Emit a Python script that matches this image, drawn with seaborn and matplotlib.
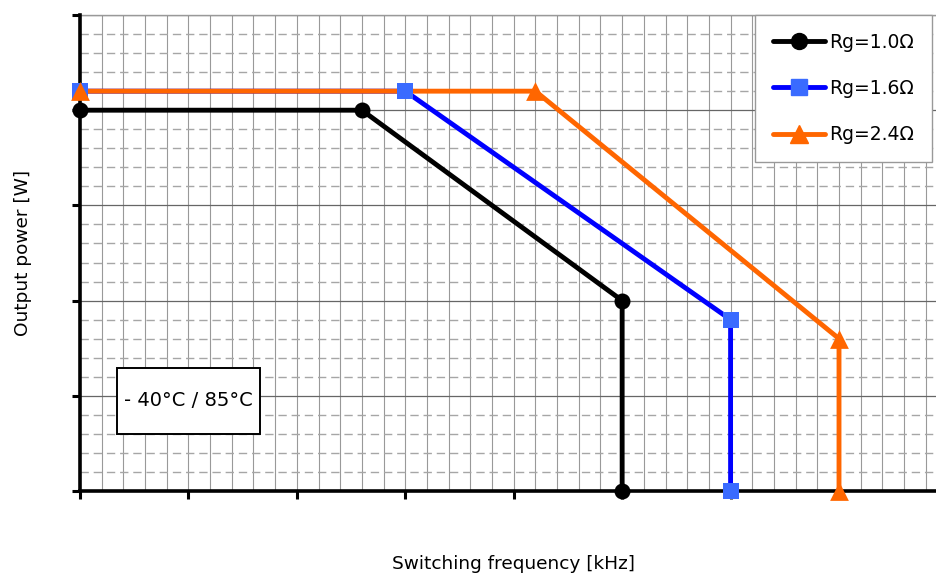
import numpy as np
import pandas as pd
import seaborn as sns
import matplotlib
matplotlib.use("Agg")
import matplotlib.pyplot as plt
from matplotlib.lines import Line2D
from matplotlib.patches import Rectangle
from matplotlib.ticker import MultipleLocator

# ---- data (in grid units) ----
series_names = ["Rg=1.0Ω", "Rg=1.6Ω", "Rg=2.4Ω"]
freq_rg10 = [0.0, 2.6, 5.0, 5.0]
power_rg10 = [4.0, 4.0, 2.0, 0.0]
freq_rg16 = [0.0, 3.0, 6.0, 6.0]
power_rg16 = [4.2, 4.2, 1.8, 0.0]
freq_rg24 = [0.0, 4.2, 7.0, 7.0]
power_rg24 = [4.2, 4.2, 1.6, 0.0]
annotation_text = "- 40°C / 85°C"
x_label = "Switching frequency [kHz]"
y_label = "Output power [W]"

freqs = [freq_rg10, freq_rg16, freq_rg24]
powers = [power_rg10, power_rg16, power_rg24]
frames = []
for name, f, p in zip(series_names, freqs, powers):
    frames.append(pd.DataFrame({"series": name, "freq": f, "power": p,
                                "order": range(len(f))}))
df = pd.concat(frames, ignore_index=True)

line_colors = ["#000000", "#0000FF", "#FF6600"]
marker_colors = ["#000000", "#3A6BFF", "#FF6600"]
markers = ["o", "s", "^"]
marker_ms = [11.5, 12.0, 13.5]

sns.set_style("white")
plt.rcParams["font.family"] = ["DejaVu Sans"]
plt.rcParams["text.color"] = "black"
plt.rcParams["axes.labelcolor"] = "black"

fig = plt.figure(figsize=(9.36, 5.77), dpi=100)
ax = fig.add_axes([80 / 936, 1 - 491 / 577, 856 / 936, 476 / 577])

# lines
for name, lc in zip(series_names, line_colors):
    sub = df[df["series"] == name]
    sns.lineplot(data=sub, x="freq", y="power", sort=False, estimator=None,
                 color=lc, linewidth=3.5, ax=ax, zorder=3, legend=False,
                 solid_joinstyle="miter")
# markers on top
for name, mc, mk, ms in zip(series_names, marker_colors, markers, marker_ms):
    sub = df[df["series"] == name]
    sns.scatterplot(data=sub, x="freq", y="power", marker=mk, s=ms ** 2,
                    color=mc, edgecolor=mc, linewidth=0, ax=ax, zorder=5,
                    clip_on=False, legend=False)

ax.set_xlim(0, 856 / 108.43)
ax.set_ylim(0, 5)

ax.xaxis.set_major_locator(MultipleLocator(1))
ax.xaxis.set_minor_locator(MultipleLocator(0.2))
ax.yaxis.set_major_locator(MultipleLocator(1))
ax.yaxis.set_minor_locator(MultipleLocator(0.2))

ax.set_axisbelow(True)
ax.grid(which="both", axis="x", color="#999999", linewidth=0.8, linestyle="-")
ax.grid(which="major", axis="y", color="#666666", linewidth=0.9, linestyle="-")
ax.grid(which="minor", axis="y", color="#a6a6a6", linewidth=1.0,
        linestyle=(0, (6, 3.5)))

ax.tick_params(which="major", direction="out", length=6, width=2.2,
               color="black", labelbottom=False, labelleft=False,
               bottom=True, left=True, top=False, right=False)
ax.tick_params(which="minor", length=0)

for side in ["left", "bottom"]:
    ax.spines[side].set_color("black")
    ax.spines[side].set_linewidth(2.6)
    ax.spines[side].set_zorder(4)
ax.spines["top"].set_color("#999999")
ax.spines["top"].set_linewidth(1.0)
ax.spines["right"].set_visible(False)

ax.set_xlabel(x_label, fontsize=13.3, color="black")
ax.set_ylabel(y_label, fontsize=13.3, color="black")
ax.xaxis.set_label_coords((513 - 80) / 856, -(555 - 491) / 476)
ax.yaxis.set_label_coords((32 - 80) / 856, 0.5)

# annotation box
ax.add_patch(Rectangle(((117 - 80) / 856, (491 - 434) / 476),
                       (260 - 117) / 856, (434 - 368) / 476,
                       transform=ax.transAxes, facecolor="white",
                       edgecolor="black", linewidth=1.4, zorder=6))
ax.text((188 - 80) / 856, (491 - 401) / 476, annotation_text,
        transform=ax.transAxes, ha="center", va="center", fontsize=14,
        color="black", zorder=7)

# legend
handles = [Line2D([0], [0], color=lc, linewidth=3.5, marker=mk,
                  markersize=ms, markerfacecolor=mc, markeredgecolor=mc)
           for lc, mc, mk, ms in zip(line_colors, marker_colors, markers,
                                     marker_ms)]
leg = ax.legend(handles, series_names, loc="upper left",
                bbox_to_anchor=((755 - 80) / 856, 1.0), fontsize=13.5,
                frameon=True, fancybox=False, edgecolor="#999999",
                framealpha=1, handlelength=2.8, handletextpad=0.2,
                labelspacing=1.45, borderpad=0.95, borderaxespad=0,
                numpoints=1, labelcolor="black")
leg.get_frame().set_linewidth(1.0)
leg.set_zorder(8)

fig.savefig("out.png", dpi=100, facecolor="white")
